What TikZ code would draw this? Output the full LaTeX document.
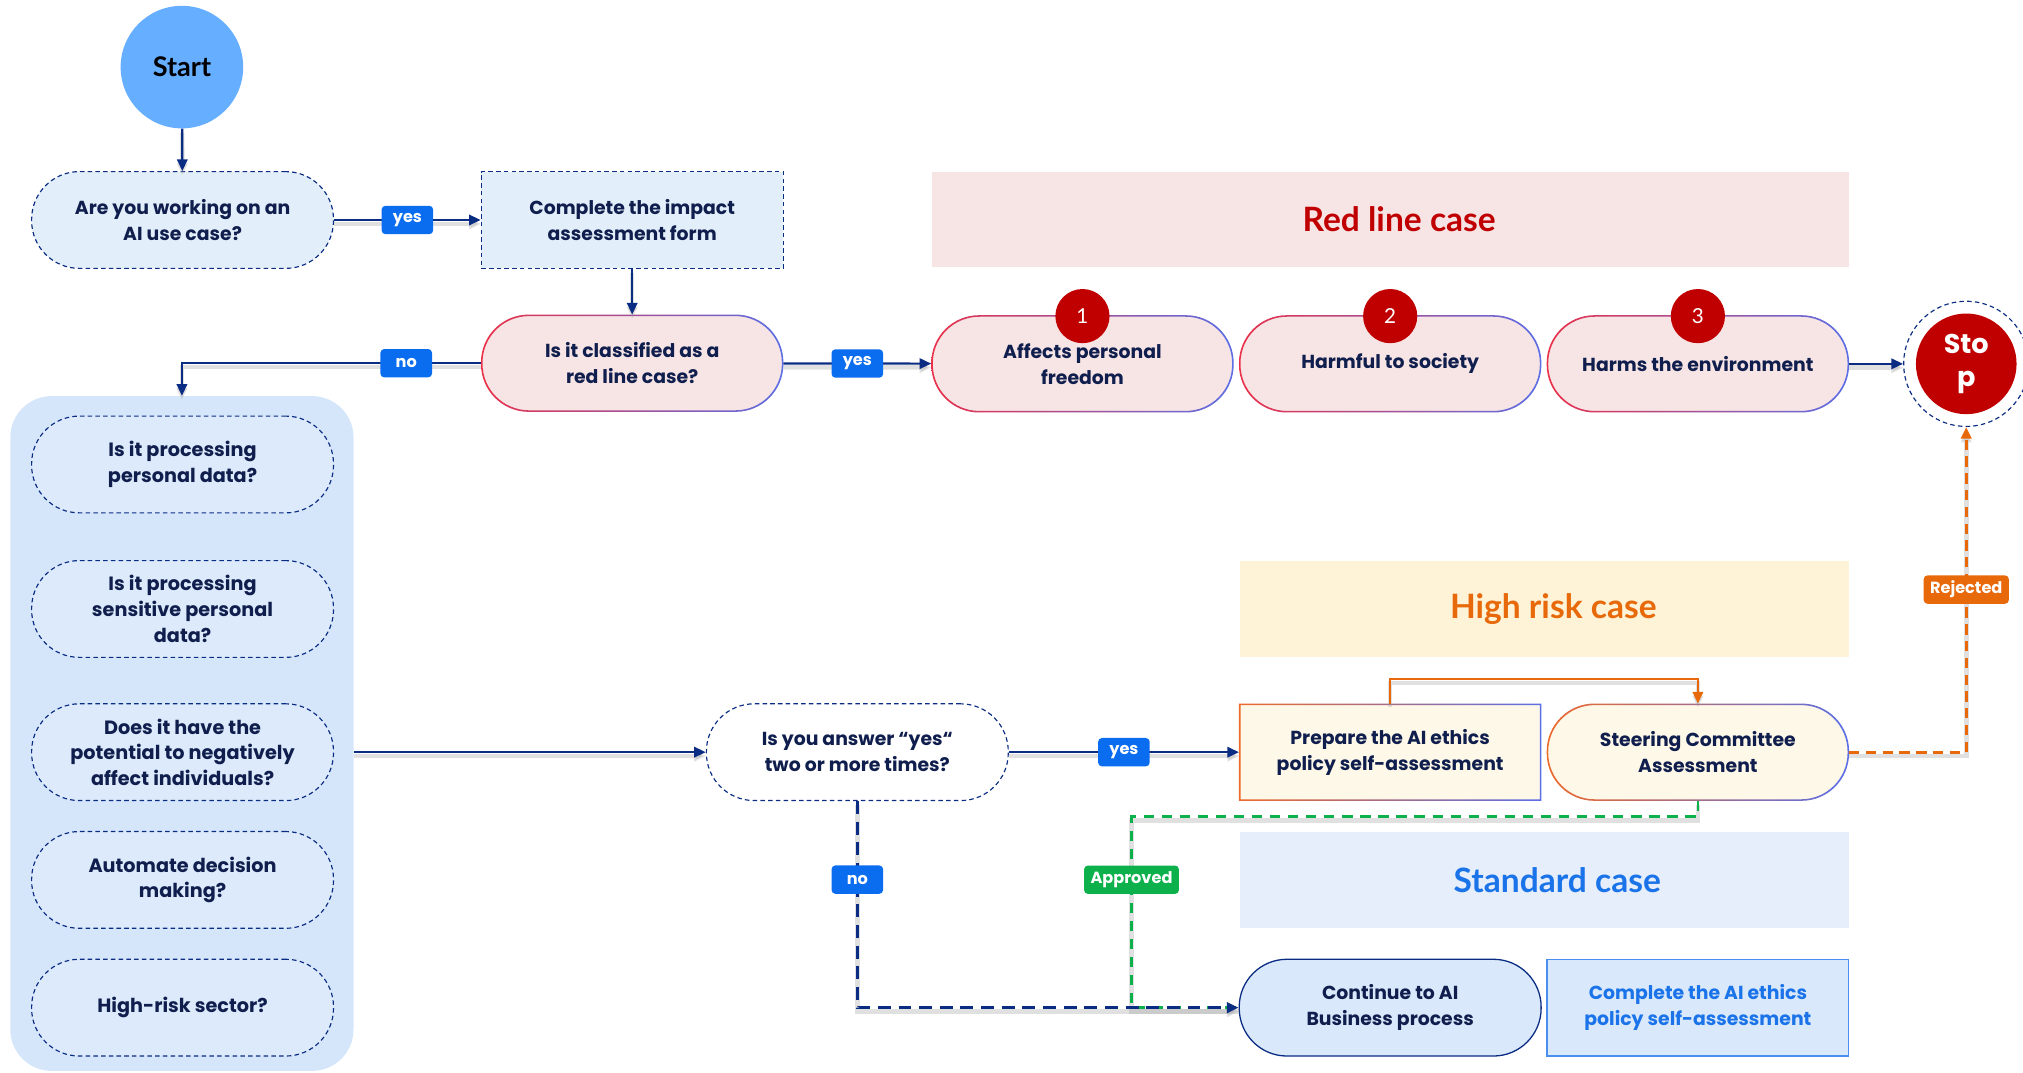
\documentclass[tikz,border=0pt]{standalone}
\usepackage{fontspec}
\setmainfont{Lato}
\newfontfamily\panelfont{Poppins}
\usetikzlibrary{arrows.meta,calc}

\definecolor{ink}{HTML}{0F1E4D}
\definecolor{navy}{HTML}{0A2C83}
\definecolor{tagblue}{HTML}{0A6CEE}
\definecolor{startblue}{HTML}{66AEFF}
\definecolor{paleblue}{HTML}{E3EEFB}
\definecolor{panelblue}{HTML}{D5E5FA}
\definecolor{cellblue}{HTML}{DCEAFB}
\definecolor{stdblue}{HTML}{E5EEFA}
\definecolor{contblue}{HTML}{D9E9FB}
\definecolor{edgeblue}{HTML}{4A8FEE}
\definecolor{txtblue}{HTML}{1A73E8}
\definecolor{pink}{HTML}{F7E4E5}
\definecolor{darkred}{HTML}{C00000}
\definecolor{edgered}{HTML}{EA3149}
\definecolor{edgeviolet}{HTML}{5B6FE6}
\definecolor{cream}{HTML}{FEF8E9}
\definecolor{hiyellow}{HTML}{FEF2D7}
\definecolor{orange}{HTML}{E8690A}
\definecolor{edgeorange}{HTML}{EC6A2C}
\definecolor{green}{HTML}{0DB14B}

% shaded outline ring around a named node: node, outer radius, inner radius, left colour, right colour
\newcommand\gradedge[5]{%
  \shade[left color=#4, right color=#5, even odd rule]
    [rounded corners=#2] (#1.north west) rectangle (#1.south east)
    [rounded corners=#3] ($(#1.north west)+(1.2,1.2)$) rectangle ($(#1.south east)+(-1.2,-1.2)$);}

\tikzset{
  txt/.style={align=center, inner sep=0pt, text=ink, font=\panelfont\bfseries\fontsize{14.6}{20}\selectfont},
  ptxt/.style={align=center, inner sep=0pt, text=ink, font=\panelfont\bfseries\fontsize{14.9}{20}\selectfont},
  pill/.style={rectangle, rounded corners=37pt, minimum width=234pt, minimum height=75pt},
  boxshape/.style={rectangle, minimum width=234pt, minimum height=75pt},
  dashedge/.style={draw=navy, line width=0.9pt, dash pattern=on 3.5pt off 2.5pt},
  banner/.style={rectangle, minimum height=74pt, inner sep=0pt, font=\bfseries\fontsize{26}{30}\selectfont},
  tag/.style={rounded corners=3pt, text=white, inner xsep=5pt, inner ysep=0pt, minimum height=22pt,
    minimum width=40pt, font=\panelfont\bfseries\fontsize{12.5}{14}\selectfont},
  shadowed/.style={preaction={draw=black!40, opacity=0.3, line width=3.5pt, transform canvas={yshift=-3pt}}},
  tip/.style={-{Triangle[length=9pt,width=8pt]}},
  flow/.style={shadowed, draw=navy, line width=1.7pt, tip},
  badge/.style={circle, fill=darkred, minimum size=42pt, inner sep=0pt, text=white, font=\fontsize{16}{18}\selectfont},
}

\begin{document}
\begin{tikzpicture}[x=1pt, y=-1pt]
\useasboundingbox (0,0) rectangle (1568,831);

% ---------- entry ----------
\node[circle, fill=startblue, minimum size=95pt, inner sep=0pt, font=\bfseries\fontsize{21}{24}\selectfont] (start) at (141,52) {Start};
\node[txt, pill, fill=paleblue, dashedge] (q1) at (141.5,170.5) {Are you working on an\\AI use case?};
\node[txt, boxshape, fill=paleblue, dashedge] (impact) at (490,170.5) {Complete the impact\\assessment form};
\node[txt, pill, fill=pink] (redq) at (490,281.5) {Is it classified as a\\red line case?};
\gradedge{redq}{37pt}{36pt}{edgered}{edgeviolet}

% ---------- red line case ----------
\node[banner, fill=pink, minimum width=711pt, text=darkred] (redban) at (1077.5,170) {\hspace{14pt}Red line case};
\foreach \n/\x/\t in {1/839/{Affects personal\\freedom}, 2/1077.5/{Harmful to society}, 3/1316/{Harms the environment}} {
  \node[txt, pill, fill=pink] (r\n) at (\x,282) {\t};
  \gradedge{r\n}{37pt}{36pt}{edgered}{edgeviolet}
}
\foreach \n/\x in {1/839, 2/1077.5, 3/1316}
  \node[badge] (b\n) at (\x,245) {\n};

\node[circle, minimum size=97pt, fill=white, dashedge] (stop) at (1524,282) {};
\node[circle, minimum size=78pt, fill=darkred, inner sep=0pt, text=white, align=center,
  font=\panelfont\bfseries\fontsize{21}{25}\selectfont] (stopin) at (stop.center) {Sto\\p};

% ---------- question panel ----------
\node[rectangle, rounded corners=32pt, fill=panelblue, minimum width=266pt, minimum height=523pt, inner sep=0pt] (panel) at (141,568.5) {};
\foreach \n/\y/\t in {1/360/{Is it processing\\personal data?},
                      2/472/{Is it processing\\sensitive personal\\data?},
                      3/583/{Does it have the\\potential to negatively\\affect individuals?},
                      4/682/{Automate decision\\making?},
                      5/781/{High-risk sector?}}
  \node[ptxt, pill, fill=cellblue, dashedge] (p\n) at (141.5,\y) {\t};

\node[txt, pill, fill=white, dashedge] (answer) at (664.5,583) {Is you answer “yes“\\two or more times?};

% ---------- high risk case ----------
\node[banner, fill=hiyellow, minimum width=472pt, text=orange] (hiban) at (1197,472) {\hspace{14pt}High risk case};
\node[txt, boxshape, fill=cream] (prep) at (1077.5,583) {Prepare the AI ethics\\policy self-assessment};
\gradedge{prep}{0pt}{0pt}{edgeorange}{edgeviolet}
\node[txt, pill, fill=cream] (steer) at (1316,583) {Steering Committee\\Assessment};
\gradedge{steer}{37pt}{36pt}{edgeorange}{edgeviolet}

% ---------- standard case ----------
\node[banner, fill=stdblue, minimum width=472pt, text=txtblue] (stdban) at (1197,682) {\hspace{20pt}Standard case};
\node[txt, pill, fill=contblue, draw=navy, line width=1pt] (cont) at (1077.5,781) {Continue to AI\\Business process};
\node[txt, boxshape, fill=contblue, draw=edgeblue, line width=1pt, text=txtblue] (comp) at (1316,781) {Complete the AI ethics\\policy self-assessment};

\coordinate (gturn) at (877,633);

% ---------- connectors ----------
\draw[flow] (start) -- (q1);
\draw[flow] (q1) -- node[tag, fill=tagblue] {yes} (impact);
\draw[flow] (impact) -- (redq);
\draw[flow] (redq.west) -- node[pos=.25, tag, fill=tagblue] {no} (redq.west -| panel.north) -- (panel.north);
\draw[flow] (redq) -- node[tag, fill=tagblue] {yes} (r1);
\draw[flow] (r3) -- (stop);
\draw[flow] (panel.east |- answer.west) -- (answer.west);
\draw[flow] (answer) -- node[tag, fill=tagblue] {yes} (prep);
\draw[shadowed, draw=orange, line width=1.7pt, tip] (prep.north) -- ++(0,-19) -| (steer.north);

\draw[shadowed, draw=orange, line width=2.2pt, dash pattern=on 8pt off 5pt, tip]
  (steer.east) -| node[pos=.75, tag, fill=orange, solid] {Rejected} (stop.south);
\draw[shadowed, draw=green, line width=2pt, dash pattern=on 8pt off 6pt]
  (steer.south) |- (gturn) |- node[pos=.165, tag, fill=green, solid] {Approved} (cont.west);
\draw[shadowed, draw=navy, line width=2.2pt, dash pattern=on 10pt off 6pt, tip]
  (answer.south) |- node[pos=.19, tag, fill=tagblue, solid] {no} (cont.west);
\end{tikzpicture}
\end{document}
